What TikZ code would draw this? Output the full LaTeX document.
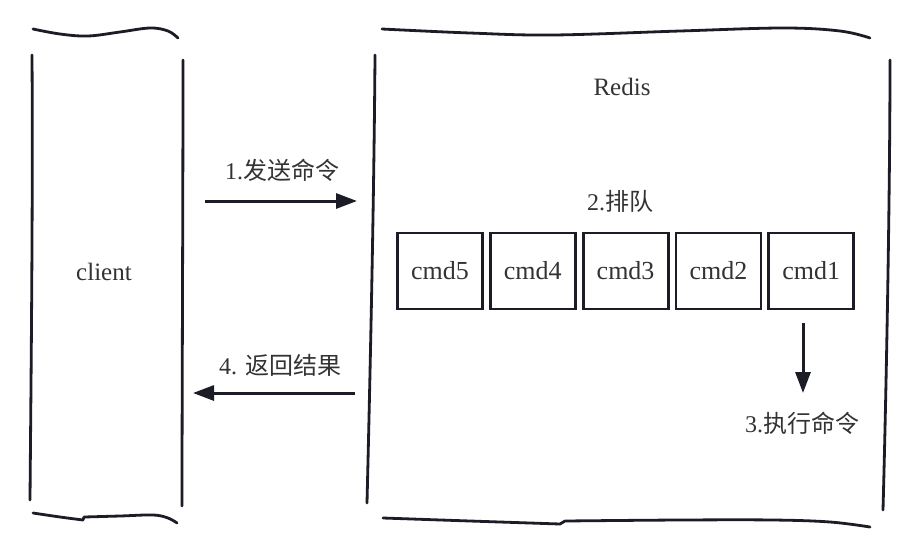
\documentclass[tikz,border=0pt]{standalone}
\usepackage{fontspec}
\setmainfont{Liberation Serif}
\newfontfamily\cjk{Noto Sans CJK SC}
\usetikzlibrary{arrows.meta,positioning}
\definecolor{Ink}{HTML}{1C1C26}
\definecolor{Label}{HTML}{333333}
\tikzset{
  stroke/.style={draw=Ink,line width=2.8pt,line cap=round,line join=round},
  cmdbox/.style={draw=Ink,line width=2.8pt,minimum width=85pt,minimum height=76pt,inner sep=0pt,font=\fontsize{26}{30}\selectfont,text=Label},
  caption/.style={font=\fontsize{25}{30}\selectfont,text=Label,inner sep=0pt},
  steplabel/.style={font=\fontsize{24}{28}\selectfont,text=Label,inner sep=0pt},
  line/.style={-{Triangle[length=21pt,width=15pt]},draw=Ink,line width=3pt}
}
\begin{document}
\begin{tikzpicture}[x=1pt,y=-1pt,node distance=5pt]
  \useasboundingbox[fill=white] (0,0) rectangle (922,555);
  % client column
  \draw[stroke] plot[smooth,tension=0.6] coordinates {(33,29) (60,34) (88,36) (120,32) (150,28) (168,31) (178,38)};
  \draw[stroke] (32,55) .. controls (33,200) and (31,380) .. (30,500);
  \draw[stroke] (183,60) .. controls (183,200) and (182,400) .. (182,506);
  \draw[stroke] plot[smooth,tension=0.6] coordinates {(33,513) (60,517) (83,520)} -- (84,517)
    plot[smooth,tension=0.6] coordinates {(84,517) (120,516) (153,515) (168,518) (177,523)};
  % redis column
  \draw[stroke] plot[smooth,tension=0.6] coordinates {(382,29) (470,33) (553,35) (680,31) (783,28) (840,31) (870,38)};
  \draw[stroke] (375,55) .. controls (374,200) and (370,380) .. (367,503);
  \draw[stroke] (890,60) .. controls (890,200) and (886,400) .. (883,510);
  \draw[stroke] plot[smooth,tension=0.6] coordinates {(383,518) (470,521) (560,524)} -- (565,521)
    plot[smooth,tension=0.6] coordinates {(565,521) (680,520) (773,520) (830,522) (870,527)};

  \node[caption] (client) at (104,272) {client};
  \node[caption] (redis) at (622,87) {Redis};

  % queue
  \node[cmdbox] (cmd5) at (440,271) {cmd5};
  \node[cmdbox,right=of cmd5] (cmd4) {cmd4};
  \node[cmdbox,right=of cmd4] (cmd3) {cmd3};
  \node[cmdbox,right=of cmd3] (cmd2) {cmd2};
  \node[cmdbox,right=of cmd2] (cmd1) {cmd1};
  \node[steplabel] (queue) at (620,201) {2.{\cjk 排队}};

  % requests and replies
  \coordinate (sendA) at (205,201);
  \coordinate (sendB) at (357,201);
  \coordinate (backA) at (355,393);
  \coordinate (backB) at (193,393);
  \node[steplabel] (send) at (282,170) {1.{\cjk 发送命令}};
  \node[steplabel] (back) at (280,365) {4. {\cjk 返回结果}};
  \node[steplabel] (exec) at (802,423) {3.{\cjk 执行命令}};
  \coordinate (execA) at (803,323);
  \coordinate (execB) at (803,393);
  \draw[line] (sendA) -- (sendB);
  \draw[line] (backA) -- (backB);
  \draw[line] (execA) -- (execB);
\end{tikzpicture}
\end{document}
